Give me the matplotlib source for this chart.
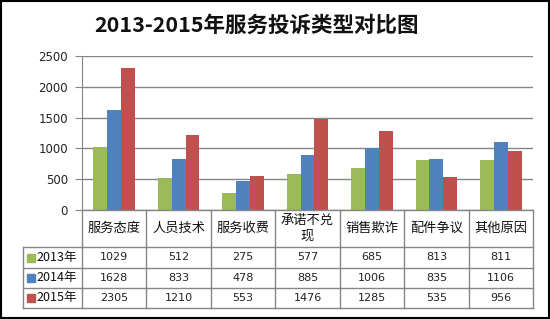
import numpy as np
import matplotlib.pyplot as plt
from matplotlib.lines import Line2D
from matplotlib.patches import Rectangle

plt.rcParams['font.family'] = ['Noto Sans CJK SC', 'DejaVu Sans']

#data
categories = ['服务态度', '人员技术', '服务收费', '承诺不兑\n现', '销售欺诈', '配件争议', '其他原因']
series_names = ['2013年', '2014年', '2015年']
v2013 = [1029, 512, 275, 577, 685, 813, 811]
v2014 = [1628, 833, 478, 885, 1006, 835, 1106]
v2015 = [2305, 1210, 553, 1476, 1285, 535, 956]
colors = ['#9BBB59', '#4F81BD', '#C0504D']
yticks = [0, 500, 1000, 1500, 2000, 2500]

W, H = 550, 319
fig = plt.figure(figsize=(W/100, H/100), dpi=100)

#helpers: pixel -> figure fraction
def fx(px): return px/W
def fy(py): return 1-py/H

left, right, top, bottom = 82, 533, 56, 210
ax = fig.add_axes([fx(left), fy(bottom), fx(right-left), (bottom-top)/H])

x = np.arange(len(categories))
bw = 0.215
for k, vals in enumerate([v2013, v2014, v2015]):
    ax.bar(x+(k-1)*bw, vals, width=bw, color=colors[k], zorder=3)

ax.set_xlim(-0.5, len(categories)-0.5)
ax.set_ylim(0, 2500)
ax.set_yticks(yticks)
ax.set_yticklabels([str(t) for t in yticks], fontsize=8.5, color='#222222', family='DejaVu Sans')
ax.tick_params(axis='y', length=5, width=0.8, color='#868686', pad=5)
ax.set_xticks([])
ax.grid(axis='y', color='#868686', linewidth=1, zorder=0)
for s in ['top', 'right', 'bottom']:
    ax.spines[s].set_visible(False)
ax.spines['left'].set_color('#868686')

#title
fig.text(fx(257), fy(25), '2013-2015年服务投诉类型对比图', ha='center', va='center',
         fontsize=15.5, fontweight='bold', color='#111111')

#data table under the axis
lc = '#868686'
col_edges = np.linspace(left, right, len(categories)+1)
row_lines = [bottom, 247, 268, 288, 308]
lab_left = 23
def hline(py, x0, x1):
    fig.add_artist(Line2D([fx(x0), fx(x1)], [fy(py), fy(py)], color=lc, lw=1))
def vline(px, y0, y1):
    fig.add_artist(Line2D([fx(px), fx(px)], [fy(y0), fy(y1)], color=lc, lw=1))

hline(bottom, left, right)
for py in row_lines[1:]:
    hline(py, lab_left, right)
for px in col_edges:
    vline(px, bottom, row_lines[-1])
vline(lab_left, row_lines[1], row_lines[-1])

for i, cat in enumerate(categories):
    cx = (col_edges[i]+col_edges[i+1])/2
    fig.text(fx(cx), fy((row_lines[0]+row_lines[1])/2), cat, ha='center', va='center',
             fontsize=9.5, color='#111111', linespacing=1.3)

for r, vals in enumerate([v2013, v2014, v2015]):
    cy = (row_lines[r+1]+row_lines[r+2])/2
    for i, v in enumerate(vals):
        cx = (col_edges[i]+col_edges[i+1])/2
        fig.text(fx(cx), fy(cy), str(v), ha='center', va='center',
                 fontsize=8, color='#222222', family='DejaVu Sans')
    fig.add_artist(Rectangle((fx(lab_left+4), fy(cy+4)), 8/W, 8/H, color=colors[r]))
    fig.text(fx(lab_left+13), fy(cy), series_names[r], ha='left', va='center',
             fontsize=9, color='#111111')

#outer frame
fig.add_artist(Rectangle((0.5/W, 1/H), 1-2/W, 1-1.5/H, fill=False, edgecolor='black', lw=1.5))

fig.savefig('out.png', dpi=100)
